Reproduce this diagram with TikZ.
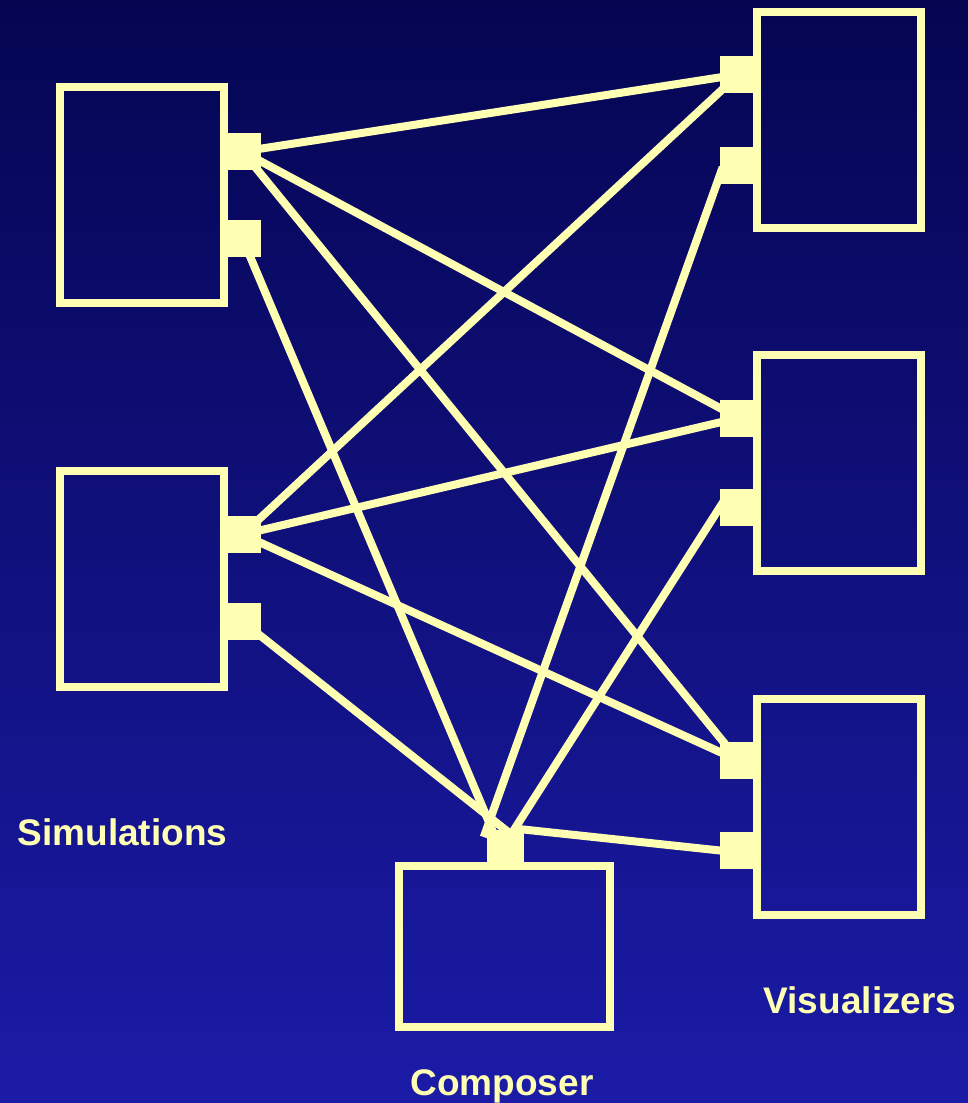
\documentclass[tikz,border=0pt]{standalone}
\usepackage{fontspec}
\setmainfont{Liberation Sans}
\usetikzlibrary{calc}
\definecolor{yel}{RGB}{255,255,180}
\definecolor{bgtop}{RGB}{5,5,82}
\definecolor{bgbot}{RGB}{27,27,167}
\pgfdeclarelayer{back}
\pgfdeclarelayer{lines}
\pgfsetlayers{back,lines,main}
\begin{document}
\begin{tikzpicture}[x=1pt,y=-1pt,
  comp/.style={draw=yel,line width=8pt,minimum width=164pt,minimum height=216pt,inner sep=0pt,outer sep=0pt},
  port/.style={fill=yel,draw=none,minimum size=37pt,inner sep=0pt,outer sep=0pt},
  wire/.style={draw=yel,line width=8pt,shorten <=-8pt,shorten >=-8pt},
  lbl/.style={text=yel,font=\fontsize{37}{44}\selectfont\bfseries,anchor=base,inner sep=0pt}]
\begin{pgfonlayer}{back}
  \shade[top color=bgtop,bottom color=bgbot] (0,0) rectangle (968,1103);
\end{pgfonlayer}
\useasboundingbox (0,0) rectangle (968,1103);
% components
\node[comp] (s1) at (142,195) {};
\node[comp] (s2) at (142,578.5) {};
\node[comp] (v1) at (839,120) {};
\node[comp] (v2) at (839,462.5) {};
\node[comp] (v3) at (839,807) {};
\node[comp,minimum width=211pt,minimum height=161pt] (c) at (504.5,946.5) {};
% ports
\node[port] (s1p1) at (242.5,151.5) {};
\node[port] (s1p2) at (242.5,238.5) {};
\node[port] (s2p1) at (242.5,534.5) {};
\node[port] (s2p2) at (242.5,621.5) {};
\node[port] (v1p1) at (738.5,74.5) {};
\node[port] (v1p2) at (738.5,165.5) {};
\node[port] (v2p1) at (738.5,418) {};
\node[port] (v2p2) at (738.5,507) {};
\node[port] (v3p1) at (738.5,760.5) {};
\node[port] (v3p2) at (738.5,850.5) {};
\node[port] (cp) at (505,848) {};
% connectors
\begin{pgfonlayer}{lines}
  \draw[wire] (s1p1.center) -- (v1p1.center);
  \draw[wire] (s1p1.center) -- (v2p1.center);
  \draw[wire] (s1p1.center) -- (v3p1.center);
  \draw[wire] (s2p1.center) -- (v1p1.center);
  \draw[wire] (s2p1.center) -- (v2p1.center);
  \draw[wire] (s2p1.center) -- (v3p1.center);
  \draw[wire] (s1p2.center) -- ($(cp.north west)!0.15!(cp.north east)$);
  \draw[wire] (s2p2.center) -- (cp.north);
  \draw[wire] (cp.north west) -- ($(v1p2.west)!0.5!(v1p2.south west)$);
  \draw[wire] ($(cp.north west)!0.75!(cp.north east)$) -- (v2p2.west);
  \draw[wire] (cp.north east) -- (v3p2.west);
\end{pgfonlayer}
% labels
\node[lbl] (tsim) at (122.5,845) {Simulations};
\node[lbl] (tvis) at (860,1013) {Visualizers};
\node[lbl] (tcom) at (502,1095) {Composer};
\end{tikzpicture}
\end{document}
